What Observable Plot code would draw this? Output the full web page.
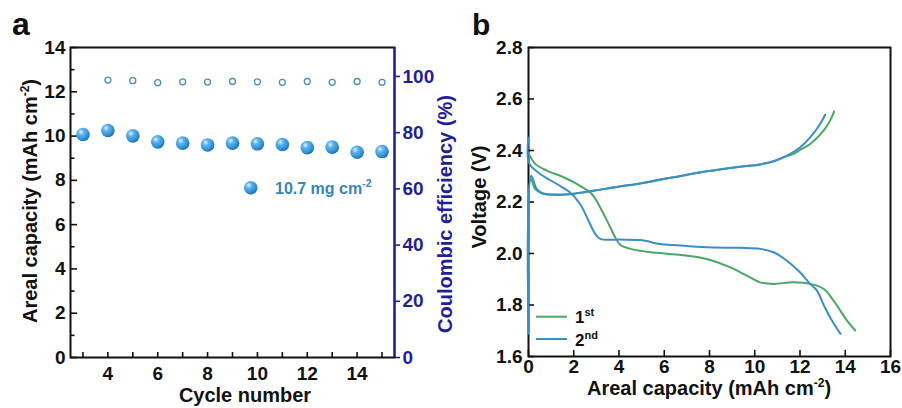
<!DOCTYPE html>
<html><head><meta charset="utf-8">
<script src="https://cdn.jsdelivr.net/npm/d3@7"></script>
<script src="https://cdn.jsdelivr.net/npm/@observablehq/plot@0.6"></script>
<style>
body{margin:0;background:#fff;font-family:"Liberation Sans",Arial,sans-serif;}
#wrap{position:relative;width:902px;height:408px;overflow:hidden;background:#fff;}
#wrap svg{position:absolute;top:0;}
</style></head><body>
<svg width="0" height="0" style="position:absolute"><defs>
<radialGradient id="sphere" cx="0.36" cy="0.32" r="0.72">
<stop offset="0" stop-color="#e4f4ff"/><stop offset="0.3" stop-color="#5fb4ef"/>
<stop offset="0.75" stop-color="#2f8fd6"/><stop offset="1" stop-color="#1c68a8"/>
</radialGradient></defs></svg>
<div id="wrap"></div>
<script>
// ---------- Panel a data ----------
const cycles = [3,4,5,6,7,8,9,10,11,12,13,14,15];
const capacity = [10.07,10.25,10.01,9.74,9.68,9.60,9.68,9.65,9.62,9.48,9.50,9.27,9.30];
const ceCycles = [4,5,6,7,8,9,10,11,12,13,14,15];
const efficiency = [98.7,98.5,97.8,98.1,98.0,98.2,98.1,97.9,98.2,97.9,98.2,97.9];
const capTicks = [0,2,4,6,8,10,12,14];
const capMinor = [1,3,5,7,9,11,13];
const cycleTicks = [4,6,8,10,12,14];
const ceTicks = [0,20,40,60,80,100];

// ---------- Panel b data ----------
const dis1Cap = [0,0.3,0.81,1.55,2.28,2.8,3.17,3.54,3.83,4.05,4.5,5.23,6.0,6.9,7.88,8.92,9.65,10.24,10.83,11.7,12.45,13.04,13.5,14.07,14.44];
const dis1V   = [2.39,2.348,2.322,2.296,2.263,2.231,2.179,2.115,2.063,2.034,2.018,2.007,2.0,1.993,1.979,1.946,1.914,1.888,1.882,1.888,1.882,1.863,1.815,1.74,1.701];
const chg1Cap = [0,0.1,0.3,0.6,1.1,1.84,2.58,3.32,4.05,4.94,6.41,7.88,9.36,10.24,10.83,11.42,11.7,12.0,12.45,13.04,13.33,13.51];
const chg1V   = [1.70,2.29,2.25,2.233,2.228,2.23,2.24,2.25,2.26,2.272,2.296,2.319,2.337,2.346,2.358,2.378,2.386,2.402,2.425,2.477,2.516,2.552];
const dis2Cap = [0,0.03,0.52,1.25,1.84,2.28,2.65,2.95,3.17,4.05,4.94,5.82,6.41,7.88,9.36,10.24,10.83,11.42,12.0,12.45,12.75,13.1,13.41,13.79];
const dis2V   = [2.45,2.35,2.309,2.27,2.237,2.192,2.128,2.076,2.057,2.054,2.052,2.037,2.033,2.024,2.022,2.018,2.005,1.972,1.927,1.882,1.856,1.79,1.74,1.688];
const chg2Cap = [0,0.12,0.37,0.66,1.1,1.84,2.58,3.32,4.05,4.94,5.8,6.41,7.88,9.36,10.24,10.83,11.42,12.0,12.45,12.89,13.11];
const chg2V   = [1.688,2.302,2.25,2.233,2.229,2.231,2.24,2.25,2.261,2.272,2.287,2.296,2.319,2.337,2.346,2.358,2.38,2.412,2.451,2.503,2.539];
const voltTicks = [1.6,1.8,2.0,2.2,2.4,2.6,2.8];
const arealTicks = [0,2,4,6,8,10,12,14,16];

const INK = "#111";
const NAVY = "#1f1f99";
const GREEN = "#4aa866";
const BLUE = "#3a8fc8";
const FONT = "Liberation Sans, Arial, sans-serif";

const capRows = cycles.map((c,i)=>({cycle:c, cap:capacity[i]}));
const ceRows = ceCycles.map((c,i)=>({cycle:c, ce:efficiency[i]}));
const toRows = (xs, ys) => xs.map((x,i)=>({cap:x, v:ys[i]}));

const wrap = document.getElementById("wrap");

function addText(svg, x, y, rot, anchor, size, fill, parts) {
  const t = d3.select(svg).append("text")
    .attr("transform", `translate(${x},${y}) rotate(${rot})`)
    .attr("text-anchor", anchor).attr("font-size", size).attr("font-weight", "bold")
    .attr("fill", fill).attr("font-family", FONT);
  parts.forEach(([txt, dy, fs]) => {
    const s = t.append("tspan").text(txt);
    if (dy) s.attr("dy", dy);
    if (fs) s.attr("font-size", fs);
  });
  return t;
}

const baseStyle = (color) => ({fontFamily: FONT, fontWeight: "bold", fontSize: "19px", color, background: "transparent", overflow: "visible"});

// ---------- Panel a, left axis ----------
const xDomA = [2.5, 15.5];
const pa = Plot.plot({
  width: 450, height: 408,
  marginLeft: 70, marginRight: 56, marginTop: 47, marginBottom: 51,
  x: {domain: xDomA},
  y: {domain: [0, 14]},
  style: baseStyle(INK),
  marks: [
    Plot.axisY({ticks: capTicks, tickSize: 0, tickPadding: 5, label: null}),
    Plot.axisY({ticks: capTicks, tickSize: -7, text: null, label: null, strokeWidth: 1.6}),
    Plot.axisY({ticks: capMinor, tickSize: -4.5, text: null, label: null, strokeWidth: 1.6}),
    Plot.axisX({ticks: cycleTicks, tickSize: 0, tickPadding: 9, label: null}),
    Plot.axisX({ticks: cycles, tickSize: -5, text: null, label: null, strokeWidth: 1.6}),
    Plot.frame({stroke: INK, strokeWidth: 2}),
    Plot.dot(capRows, {x: "cycle", y: "cap", r: 6.8, fill: "url(#sphere)", stroke: null})
  ]
});
pa.style.left = "0px";
wrap.appendChild(pa);

// ---------- Panel a, right axis ----------
const pa2 = Plot.plot({
  width: 450, height: 408,
  marginLeft: 70, marginRight: 56, marginTop: 47, marginBottom: 51,
  x: {domain: xDomA, axis: null},
  y: {domain: [0, 110.3], axis: null},
  style: baseStyle(NAVY),
  marks: [
    Plot.axisY({anchor: "right", ticks: ceTicks, tickSize: 5, tickPadding: 3, label: null, strokeWidth: 1.6}),
    Plot.ruleX([xDomA[1]], {stroke: NAVY, strokeWidth: 2}),
    Plot.dot(ceRows, {x: "cycle", y: "ce", r: 3, fill: "white", stroke: "#4a8fbd", strokeWidth: 1.3})
  ]
});
pa2.style.left = "0px";
wrap.appendChild(pa2);

addText(pa, 37, 201, -90, "middle", 20, INK, [["Areal capacity (mAh cm"], ["-2", -8, 12], [")", 8]]);
addText(pa, 245, 402, 0, "middle", 20, INK, [["Cycle number"]]);
addText(pa2, 452, 214, -90, "middle", 20, NAVY, [["Coulombic efficiency (%)"]]);
addText(pa, 12, 35, 0, "start", 32, INK, [["a"]]);
d3.select(pa).append("circle").attr("cx", 250.7).attr("cy", 187.7).attr("r", 6.8).attr("fill", "url(#sphere)");
addText(pa, 275, 194, 0, "start", 16, "#3585c0", [["10.7 mg cm"], ["-2", -7, 10.5]]);

// ---------- Panel b ----------
const pb = Plot.plot({
  width: 452, height: 408,
  marginLeft: 78, marginRight: 12, marginTop: 47, marginBottom: 52,
  x: {domain: [0, 16]},
  y: {domain: [1.6, 2.8]},
  style: baseStyle(INK),
  marks: [
    Plot.axisY({ticks: voltTicks, tickFormat: d3.format(".1f"), tickSize: 0, tickPadding: 6, label: null}),
    Plot.axisY({ticks: voltTicks, tickSize: -6, text: null, label: null, strokeWidth: 1.6}),
    Plot.axisX({ticks: arealTicks, tickSize: 0, tickPadding: 3, label: null}),
    Plot.axisX({ticks: arealTicks, tickSize: -6, text: null, label: null, strokeWidth: 1.6}),
    Plot.frame({stroke: INK, strokeWidth: 2}),
    Plot.line(toRows(dis1Cap, dis1V), {x: "cap", y: "v", stroke: GREEN, strokeWidth: 2, curve: "catmull-rom"}),
    Plot.line(toRows(chg1Cap, chg1V), {x: "cap", y: "v", stroke: GREEN, strokeWidth: 2, curve: "catmull-rom"}),
    Plot.line(toRows(dis2Cap, dis2V), {x: "cap", y: "v", stroke: BLUE, strokeWidth: 2, curve: "catmull-rom"}),
    Plot.line(toRows(chg2Cap, chg2V), {x: "cap", y: "v", stroke: BLUE, strokeWidth: 2, curve: "catmull-rom"})
  ]
});
pb.style.left = "450px";
wrap.appendChild(pb);

addText(pb, 36, 197, -90, "middle", 20, INK, [["Voltage (V)"]]);
addText(pb, 259, 395, 0, "middle", 20, INK, [["Areal capacity (mAh cm"], ["-2", -8, 12], [")", 8]]);
addText(pb, 22, 35, 0, "start", 30, INK, [["b"]]);
const lg = d3.select(pb).append("g");
lg.append("line").attr("x1", 86).attr("x2", 117).attr("y1", 316.7).attr("y2", 316.7).attr("stroke", GREEN).attr("stroke-width", 2);
lg.append("line").attr("x1", 86).attr("x2", 117).attr("y1", 339).attr("y2", 339).attr("stroke", BLUE).attr("stroke-width", 2);
addText(pb, 125, 323, 0, "start", 17, INK, [["1"], ["st", -7, 11]]);
addText(pb, 125, 346, 0, "start", 17, INK, [["2"], ["nd", -7, 11]]);
</script>
</body></html>
